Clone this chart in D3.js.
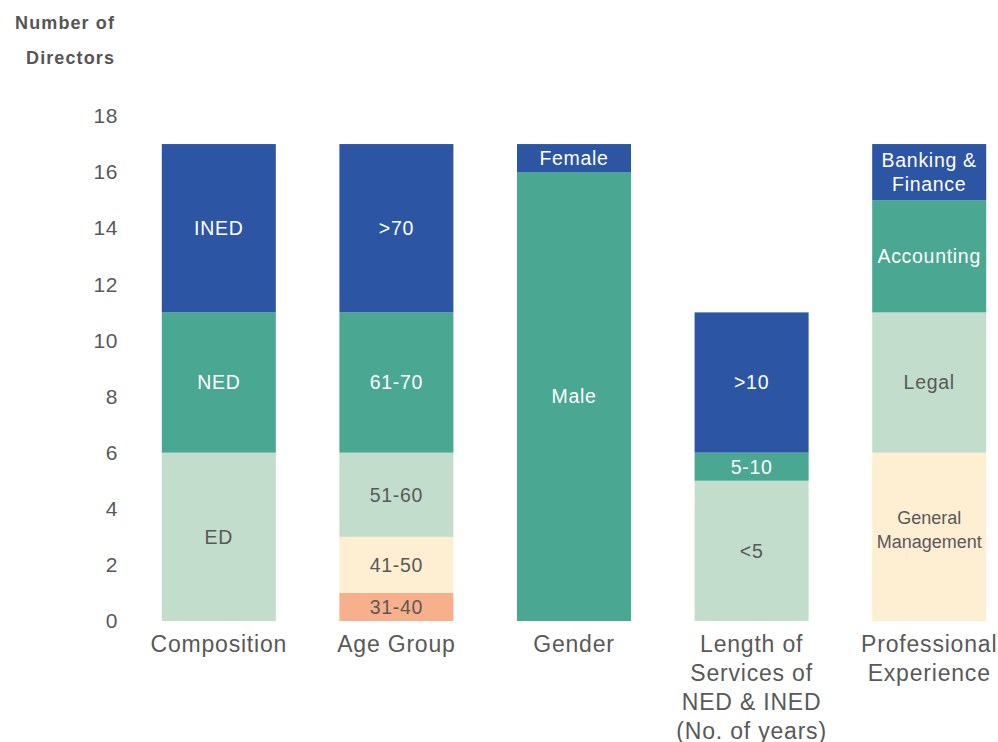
<!DOCTYPE html>
<html>
<head>
<meta charset="utf-8">
<script src="https://cdn.jsdelivr.net/npm/d3@7"></script>
<style>
  body { margin: 0; background: #fff; }
  text { font-family: "Liberation Sans", Arial, sans-serif; }
</style>
</head>
<body>
<svg id="chart" width="998" height="742"></svg>
<script>
// categories and stacked segments (bottom to top)
var categories = ["Composition", "Age Group", "Gender", "Length of Services of NED & INED (No. of years)", "Professional Experience"];
var categoryLines = [["Composition"], ["Age Group"], ["Gender"], ["Length of", "Services of", "NED & INED", "(No. of years)"], ["Professional", "Experience"]];
var compositionSegs = [{label: "ED", value: 6}, {label: "NED", value: 5}, {label: "INED", value: 6}];
var ageSegs = [{label: "31-40", value: 1}, {label: "41-50", value: 2}, {label: "51-60", value: 3}, {label: "61-70", value: 5}, {label: ">70", value: 6}];
var genderSegs = [{label: "Male", value: 16}, {label: "Female", value: 1}];
var serviceSegs = [{label: "<5", value: 5}, {label: "5-10", value: 1}, {label: ">10", value: 5}];
var experienceSegs = [{label: "General Management", value: 6}, {label: "Legal", value: 5}, {label: "Accounting", value: 4}, {label: "Banking & Finance", value: 2}];
var yTicks = [0, 2, 4, 6, 8, 10, 12, 14, 16, 18];

var allSegs = [compositionSegs, ageSegs, genderSegs, serviceSegs, experienceSegs];

// colour of each segment by its level
var darkBlue = "#2c55a4", teal = "#49a792", mint = "#c2ddcc", cream = "#feefd3", salmon = "#f8b08c";
var segColor = {
    "ED": mint, "NED": teal, "INED": darkBlue,
    "31-40": salmon, "41-50": cream, "51-60": mint, "61-70": teal, ">70": darkBlue,
    "Male": teal, "Female": darkBlue,
    "<5": mint, "5-10": teal, ">10": darkBlue,
    "General Management": cream, "Legal": mint, "Accounting": teal, "Banking & Finance": darkBlue
};
var segLines = {
    "General Management": ["General", "Management"],
    "Banking & Finance": ["Banking &", "Finance"]
};
var darkFill = [darkBlue, teal];

var svg = d3.select("#chart");

var x = d3.scaleBand()
    .domain(categories)
    .range([130, 1018])
    .paddingInner(0.358)
    .paddingOuter(0.179);

var y = d3.scaleLinear()
    .domain([0, 18])
    .range([621, 116]);

// y axis labels
var yAxis = svg.append("g")
    .attr("transform", "translate(118,0)")
    .call(d3.axisLeft(y).tickValues(yTicks).tickSize(0).tickPadding(0));
yAxis.select(".domain").remove();
yAxis.selectAll("text")
    .attr("font-size", 21)
    .attr("letter-spacing", 0.6)
    .attr("fill", "#595959")
    .style("font-family", "'Liberation Sans', Arial, sans-serif");

// axis title
svg.append("g").selectAll("text")
    .data(["Number of", "Directors"])
    .enter()
    .append("text")
    .attr("x", 115)
    .attr("y", function(d, i) { return 29 + i * 35; })
    .attr("text-anchor", "end")
    .attr("font-size", 18)
    .attr("letter-spacing", 1.1)
    .attr("font-weight", "bold")
    .attr("fill", "#555")
    .text(function(d) { return d; });

// stack segments
var stacked = [];
allSegs.forEach(function(segs, ci) {
    var base = 0;
    segs.forEach(function(s) {
        stacked.push({cat: categories[ci], label: s.label, y0: base, y1: base + s.value});
        base += s.value;
    });
});

var bars = svg.append("g");
bars.selectAll("rect")
    .data(stacked)
    .enter()
    .append("rect")
    .attr("x", function(d) { return x(d.cat); })
    .attr("width", x.bandwidth())
    .attr("y", function(d) { return y(d.y1); })
    .attr("height", function(d) { return y(d.y0) - y(d.y1); })
    .attr("fill", function(d) { return segColor[d.label]; });

var labels = bars.selectAll("text.seg")
    .data(stacked)
    .enter()
    .append("text")
    .attr("class", "seg")
    .attr("text-anchor", "middle")
    .attr("font-size", function(d) { return d.label == "General Management" ? 18 : 19.5; })
    .attr("letter-spacing", function(d) { return d.label == "General Management" ? 0 : 0.7; })
    .attr("fill", function(d) { return darkFill.indexOf(segColor[d.label]) >= 0 ? "#fff" : "#595959"; })
    .attr("transform", function(d) {
        return "translate(" + (x(d.cat) + x.bandwidth() / 2) + "," + ((y(d.y0) + y(d.y1)) / 2) + ")";
    });
labels.each(function(d) {
    var lines = segLines[d.label] || [d.label];
    var t = d3.select(this);
    var shift = d.label == "General Management" ? -7 : 0;
    lines.forEach(function(l, i) {
        t.append("tspan")
            .attr("x", 0)
            .attr("y", shift + (i - (lines.length - 1) / 2) * 24)
            .attr("dy", "0.35em")
            .text(l);
    });
});

// category labels
var cats = svg.append("g").selectAll("text")
    .data(categories)
    .enter()
    .append("text")
    .attr("text-anchor", "middle")
    .attr("font-size", 23)
    .attr("letter-spacing", 0.8)
    .attr("fill", "#595959")
    .attr("transform", function(d) { return "translate(" + (x(d) + x.bandwidth() / 2) + ",652)"; });
cats.each(function(d, ci) {
    var t = d3.select(this);
    categoryLines[ci].forEach(function(l, i) {
        t.append("tspan")
            .attr("x", 0)
            .attr("y", i * 29)
            .text(l);
    });
});
</script>
</body>
</html>
